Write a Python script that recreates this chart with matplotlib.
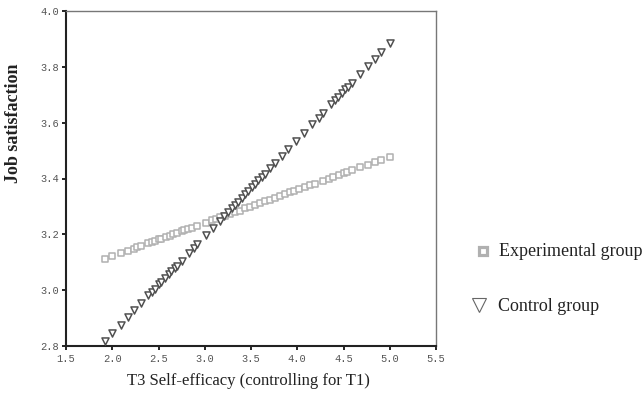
import matplotlib
matplotlib.use("Agg")
import matplotlib.pyplot as plt
from matplotlib.lines import Line2D

# Data
control_x = [1.92, 2.00, 2.09, 2.17, 2.24, 2.31, 2.39, 2.43, 2.46, 2.51, 2.53, 2.57,
             2.61, 2.64, 2.68, 2.70, 2.75, 2.83, 2.88, 2.92, 3.01, 3.09, 3.16, 3.21,
             3.25, 3.29, 3.33, 3.36, 3.40, 3.44, 3.47, 3.51, 3.54, 3.58, 3.62, 3.65,
             3.71, 3.76, 3.83, 3.90, 3.99, 4.07, 4.16, 4.23, 4.28, 4.37, 4.41, 4.44,
             4.48, 4.52, 4.55, 4.59, 4.68, 4.76, 4.84, 4.91, 5.00]
control_y = [2.818, 2.846, 2.877, 2.905, 2.929, 2.953, 2.981, 2.995, 3.005, 3.022, 3.029, 3.043,
             3.057, 3.067, 3.081, 3.088, 3.106, 3.133, 3.151, 3.164, 3.196, 3.223, 3.248, 3.265,
             3.279, 3.293, 3.306, 3.317, 3.331, 3.345, 3.355, 3.369, 3.379, 3.393, 3.407, 3.417,
             3.438, 3.455, 3.480, 3.504, 3.535, 3.563, 3.594, 3.618, 3.636, 3.667, 3.681, 3.691,
             3.705, 3.719, 3.729, 3.743, 3.774, 3.802, 3.829, 3.854, 3.885]

exper_x = [1.92, 2.00, 2.09, 2.17, 2.23, 2.27, 2.31, 2.39, 2.43, 2.46, 2.51, 2.53,
           2.58, 2.62, 2.66, 2.70, 2.75, 2.78, 2.82, 2.86, 2.92, 3.01, 3.08, 3.12,
           3.17, 3.22, 3.27, 3.33, 3.38, 3.44, 3.49, 3.54, 3.60, 3.65, 3.70, 3.76,
           3.81, 3.87, 3.92, 3.97, 4.02, 4.08, 4.14, 4.19, 4.28, 4.34, 4.39, 4.45,
           4.50, 4.54, 4.59, 4.68, 4.76, 4.84, 4.91, 5.00]
exper_y = [3.112, 3.122, 3.132, 3.142, 3.149, 3.154, 3.158, 3.168, 3.173, 3.176, 3.182, 3.184,
           3.190, 3.195, 3.200, 3.205, 3.211, 3.214, 3.219, 3.224, 3.231, 3.241, 3.250, 3.255,
           3.261, 3.266, 3.272, 3.280, 3.285, 3.293, 3.299, 3.304, 3.312, 3.318, 3.323, 3.331,
           3.337, 3.344, 3.350, 3.356, 3.361, 3.369, 3.376, 3.382, 3.392, 3.399, 3.405, 3.413,
           3.419, 3.423, 3.429, 3.440, 3.449, 3.459, 3.467, 3.478]

x_ticks = [1.5, 2.0, 2.5, 3.0, 3.5, 4.0, 4.5, 5.0, 5.5]
y_ticks = [2.8, 3.0, 3.2, 3.4, 3.6, 3.8, 4.0]
legend_labels = ["Experimental group", "Control group"]
x_label = "T3 Self-efficacy (controlling for T1)"
y_label = "Job satisfaction"

W, H = 642, 403
fig = plt.figure(figsize=(W/100, H/100), dpi=100)
ax = fig.add_axes([66/W, 1-346/H, 370/W, 335/H])

ax.scatter(exper_x, exper_y, marker='s', s=14, facecolors='white',
           edgecolors='#b0b0b0', linewidths=1.1, zorder=2)
ax.scatter(control_x, control_y, marker='v', s=26, facecolors='white',
           edgecolors='#505050', linewidths=1.1, zorder=3)

ax.set_xlim(1.5, 5.5)
ax.set_ylim(2.8, 4.0)
ax.set_xticks(x_ticks)
ax.set_yticks(y_ticks)
ax.set_xticklabels([f"{v:.1f}" for v in x_ticks])
ax.set_yticklabels([f"{v:.1f}" for v in y_ticks])
for lab in ax.get_xticklabels() + ax.get_yticklabels():
    lab.set_fontfamily('Liberation Mono')
    lab.set_fontsize(7.5)
    lab.set_color('#555555')
ax.tick_params(axis='y', direction='out', length=3, width=1.2, pad=2, colors='black',
               labelcolor='#555555')
ax.tick_params(axis='x', direction='out', length=3, width=1.2, pad=3, colors='black',
               labelcolor='#555555')

for side in ['left', 'bottom']:
    ax.spines[side].set_color('#222222')
    ax.spines[side].set_linewidth(1.5)
for side in ['top', 'right']:
    ax.spines[side].set_color('#777777')
    ax.spines[side].set_linewidth(1.0)

fig.text(248/W, 1-381/H, x_label, ha='center', va='center',
         fontfamily='Liberation Serif', fontsize=12, color='#222222')
fig.text(14/W, 1-123/H, y_label, ha='center', va='center', rotation=90,
         fontfamily='Liberation Serif', fontsize=13, fontweight='bold', color='#222222')

# legend (manual, outside the axes)
fig.add_artist(Line2D([483/W], [1-251/H], marker='s', markersize=5.3,
                      markerfacecolor='white', markeredgecolor='#b0b0b0',
                      markeredgewidth=2.3, linestyle='none', transform=fig.transFigure))
fig.add_artist(Line2D([479/W], [1-305/H], marker='v', markersize=9.5,
                      markerfacecolor='white', markeredgecolor='#666666',
                      markeredgewidth=0.8, linestyle='none', transform=fig.transFigure))
fig.text(499/W, 1-256/H, legend_labels[0], ha='left', va='baseline',
         fontfamily='Liberation Serif', fontsize=13, color='#222222')
fig.text(498/W, 1-311/H, legend_labels[1], ha='left', va='baseline',
         fontfamily='Liberation Serif', fontsize=13, color='#222222')

fig.savefig('out.png', dpi=100)
